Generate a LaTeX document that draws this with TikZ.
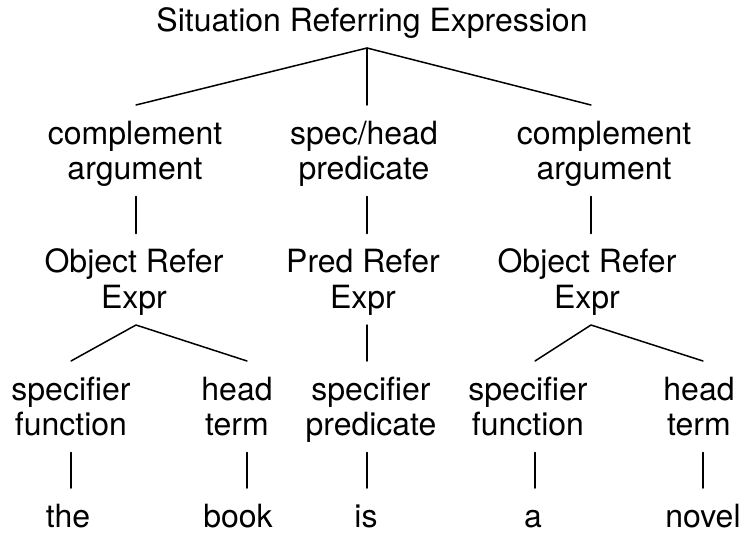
\documentclass[tikz,border=0pt]{standalone}
\usepackage{fontspec}
\setmainfont{TeX Gyre Heros}
% label texts with fixed room above the first and below the last line,
% so that north/south anchors sit where the branches end
\newcommand{\lblpair}[2]{\rule{0pt}{39pt}#1\\#2\rule[-17pt]{0pt}{17pt}}
\newcommand{\lblword}[1]{\rule{0pt}{39pt}#1\rule[-17pt]{0pt}{17pt}}
\begin{document}
\begin{tikzpicture}[x=1pt,y=-1pt,
  lbl/.style={font=\fontsize{32}{35.5}\selectfont, align=center,
    inner sep=0pt, outer sep=0pt},
  branch/.style={line width=1.5pt, line cap=round, line join=round}]
\useasboundingbox (0,0) rectangle (744,533);

% columns along which the branches run
\coordinate (xL) at (136,0);
\coordinate (xM) at (367,0);
\coordinate (xR) at (591,0);
\coordinate (x1) at (71,0);
\coordinate (x2) at (247,0);
\coordinate (x4) at (535,0);
\coordinate (x5) at (703,0);

% root
\node[lbl,anchor=south] (root) at (372,48) {\lblword{Situation Referring Expression}};

% first level
\node[lbl,anchor=north] (a1) at (135,105) {\lblpair{complement}{argument}};
\node[lbl,anchor=north] (a2) at (364,105) {\lblpair{spec/head}{predicate}};
\node[lbl,anchor=north] (a3) at (604,105) {\lblpair{complement}{argument}};

% second level
\node[lbl,anchor=north] (b1) at (134,233.5) {\lblpair{Object Refer}{Expr}};
\node[lbl,anchor=north] (b2) at (363,233.5) {\lblpair{Pred Refer}{Expr}};
\node[lbl,anchor=north] (b3) at (587,233.5) {\lblpair{Object Refer}{Expr}};

% third level
\node[lbl,anchor=north] (c1) at (71,361) {\lblpair{specifier}{function}};
\node[lbl,anchor=north] (c2) at (237,361) {\lblpair{head}{term}};
\node[lbl,anchor=north] (c3) at (371,361) {\lblpair{specifier}{predicate}};
\node[lbl,anchor=north] (c4) at (528,361) {\lblpair{specifier}{function}};
\node[lbl,anchor=north] (c5) at (699,361) {\lblpair{head}{term}};

% words
\node[lbl,anchor=north] (w1) at (68,488) {\lblword{the}};
\node[lbl,anchor=north] (w2) at (238,488) {\lblword{book}};
\node[lbl,anchor=north] (w3) at (366,488) {\lblword{is}};
\node[lbl,anchor=north] (w4) at (533,488) {\lblword{a}};
\node[lbl,anchor=north] (w5) at (703,488) {\lblword{novel}};

% root branches
\draw[branch] (a1.north -| xL) -- (root.south -| xM) -- (a3.north -| xR);
\draw[branch] (root.south -| xM) -- (a2.north -| xM);

% first to second level
\draw[branch] (a1.south -| xL) -- (b1.north -| xL);
\draw[branch] (a2.south -| xM) -- (b2.north -| xM);
\draw[branch] (a3.south -| xR) -- (b3.north -| xR);

% second to third level
\draw[branch] (c1.north -| x1) -- (b1.south -| xL) -- (c2.north -| x2);
\draw[branch] (b2.south -| xM) -- (c3.north -| xM);
\draw[branch] (c4.north -| x4) -- (b3.south -| xR) -- (c5.north -| x5);

% third level to words
\draw[branch] (c1.south -| x1) -- (w1.north -| x1);
\draw[branch] (c2.south -| x2) -- (w2.north -| x2);
\draw[branch] (c3.south -| xM) -- (w3.north -| xM);
\draw[branch] (c4.south -| x4) -- (w4.north -| x4);
\draw[branch] (c5.south -| x5) -- (w5.north -| x5);
\end{tikzpicture}
\end{document}
